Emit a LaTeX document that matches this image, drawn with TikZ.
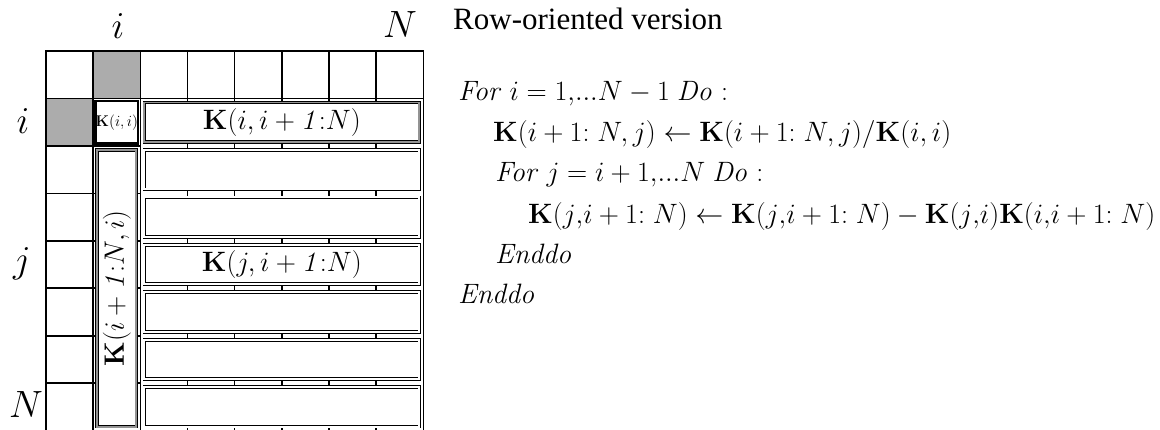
\RequirePackage{fix-cm}
\documentclass[tikz,border=0pt]{standalone}
\usepackage[no-math]{fontspec}
\setmainfont{Liberation Serif}
\newcommand{\rng}{1{:}\;N}
\begin{document}
\begin{tikzpicture}[x=1pt,y=-1pt,
  gridline/.style={draw=black,line width=1.6pt},
  shadecell/.style={fill=gray!65},
  bandbox/.style={draw=black,line width=0.9pt,double distance=1.8pt,
    inner sep=0pt,fill=white},
  rowbox/.style={bandbox,double=white,minimum width=275pt,minimum height=39.45pt},
  darkrow/.style={rowbox,double=gray!85},
  colbox/.style={bandbox,double=gray!85,rotate=90,
    minimum width=276.7pt,minimum height=39.17pt},
  pivotbox/.style={draw=black,line width=2.4pt,fill=white,inner sep=0pt,
    minimum width=42pt,minimum height=42.5pt},
  boxlabel/.style={font=\fontsize{28}{30}\selectfont},
  axislabel/.style={font=\fontsize{38}{40}\selectfont,anchor=base,inner sep=0pt},
  alg/.style={font=\fontsize{28}{30}\selectfont,anchor=base west,inner sep=0pt},
]
\useasboundingbox (0,0) rectangle (1160,429);

% shaded pivot row/column cells
\fill[shadecell] (93.17,51) rectangle (140.34,98.45);
\fill[shadecell] (46,98.45) rectangle (93.17,145.9);

% the N x N grid
\draw[gridline] (46,51) rectangle (423.36,430.6);
\foreach \x in {93.17,140.34,187.51,234.68,281.85,329.02,376.19}
  \draw[gridline] (\x,51) -- (\x,430.6);
\draw[gridline] (46,98.45) -- (423.36,98.45);
\foreach \y in {145.9,193.35,240.8,288.25,335.7,383.15}
  \draw[gridline] (46,\y) -- (140.34,\y);

% row blocks K(j, i+1:N)
\node[darkrow,boxlabel] (row2) at (281.85,122.18) {$\mathbf{K}(i,i+\mathit{1{:}}N)$};
\foreach \r/\yc in {3/169.63,4/217.08,6/311.98,7/359.43,8/406.88}
  \node[rowbox] (row\r) at (281.85,\yc) {};
\node[rowbox,boxlabel] (row5) at (281.85,264.53) {$\mathbf{K}(j,i+\mathit{1{:}}N)$};

% column block below the pivot
\node[colbox,boxlabel] (col) at (116.755,288.25) {$\mathbf{K}(i+\mathit{1{:}}N,i)$};

% pivot
\node[pivotbox,font=\fontsize{15.5}{16}\selectfont] (piv) at (116.755,122.18) {$\mathbf{K}(i,i)$};

% index labels
\node[axislabel] (ti) at (118,38) {$i$};
\node[axislabel] (tN) at (400,37) {$N$};
\node[axislabel] (li) at (23,133) {$i$};
\node[axislabel] (lj) at (22,272) {$j$};
\node[axislabel] (lN) at (26,417) {$N$};

% algorithm
\node[alg,font=\fontsize{31}{34}\selectfont] (title) at (453,29) {Row-oriented version};
\node[alg] (l1) at (458,100) {$\mathit{For}\ i=1{,}...N-1\ \mathit{Do}:$};
\node[alg] (l2) at (493,141) {$\mathbf{K}(i+\rng,j)\leftarrow\mathbf{K}(i+\rng,j)/\mathbf{K}(i,i)$};
\node[alg] (l3) at (495,181) {$\mathit{For}\ j=i+1{,}...N\ \mathit{Do}:$};
\node[alg] (l4) at (528,223) {$\mathbf{K}(j{,}i+\rng)\leftarrow\mathbf{K}(j{,}i+\rng)-\mathbf{K}(j{,}i)\mathbf{K}(i{,}i+\rng)$};
\node[alg] (l5) at (495,263) {$\mathit{Enddo}$};
\node[alg] (l6) at (458,303) {$\mathit{Enddo}$};
\end{tikzpicture}
\end{document}
